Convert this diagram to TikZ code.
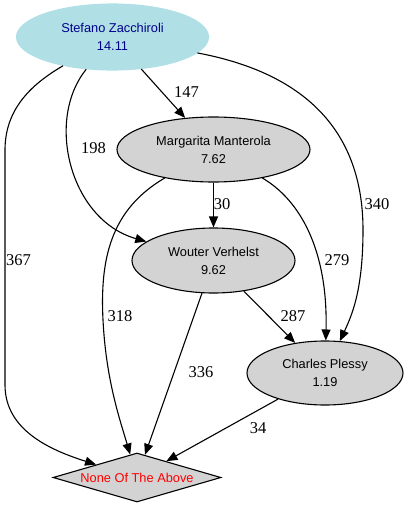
\documentclass[tikz,border=0pt]{standalone}
\usepackage{fontspec}
\setmainfont{Liberation Serif}
\newfontfamily\helv{Liberation Sans}
\usetikzlibrary{shapes,arrows.meta}
\definecolor{powder}{RGB}{176,224,230}
\definecolor{lgray}{RGB}{211,211,211}
\definecolor{navytext}{RGB}{0,0,139}

\begin{document}
\begin{tikzpicture}[x=1pt,y=-1pt,->,>={Triangle[length=11pt,width=9pt]},line width=1.1pt]
\tikzstyle{person}=[ellipse,draw=black,fill=lgray,inner sep=0pt,align=center,font=\helv\fontsize{12.8}{18}\selectfont]
\tikzstyle{weight}=[font=\fontsize{16.5}{18}\selectfont,inner sep=0pt]
\useasboundingbox (0,0) rectangle (408,507);
\node[person,fill=powder,draw=powder,text=navytext,minimum width=192pt,minimum height=66pt] (S) at (112.5,37) {Stefano Zacchiroli\\14.11};
\node[person,minimum width=193pt,minimum height=65pt] (M) at (213.5,149.5) {Margarita Manterola\\7.62};
\node[person,minimum width=163pt,minimum height=65pt] (W) at (213.5,260.5) {Wouter Verhelst\\9.62};
\node[person,minimum width=156pt,minimum height=64pt] (C) at (325,373) {Charles Plessy\\1.19};
\node[diamond,draw=black,fill=lgray,aspect=3.4,inner sep=0pt,minimum width=168pt,minimum height=49pt,text=red,font=\helv\fontsize{12.8}{18}\selectfont] (N) at (137,477.5) {None Of The Above};

% weights
\node[weight] (w147) at (186.5,92.5) {147};
\node[weight] (w198) at (93.5,148) {198};
\node[weight] (w30) at (222,204) {30};
\node[weight] (w340) at (377,204) {340};
\node[weight] (w367) at (18.5,260) {367};
\node[weight] (w279) at (337,260) {279};
\node[weight] (w318) at (120,316) {318};
\node[weight] (w287) at (293,316) {287};
\node[weight] (w336) at (201,372) {336};
\node[weight] (w34) at (258,428) {34};

\draw (S) -- (M);
\draw (S) .. controls (45,120) and (70,220) .. (W);
\draw (S) .. controls (315,75) and (363,140) .. (363,230)
          .. controls (363,290) and (352,315) .. (C);
\draw (S) .. controls (30,85) and (5,110) .. (5,150) -- (5,385)
          .. controls (5,430) and (50,450) .. (N);
\draw (M) -- (W);
\draw (M) .. controls (110,210) and (100,260) .. (103,320)
          .. controls (106,380) and (120,420) .. (N);
\draw (M) .. controls (300,200) and (328,250) .. (C);
\draw (W) -- (C);
\draw (W) -- (N);
\draw (C) -- (N);
\end{tikzpicture}
\end{document}
